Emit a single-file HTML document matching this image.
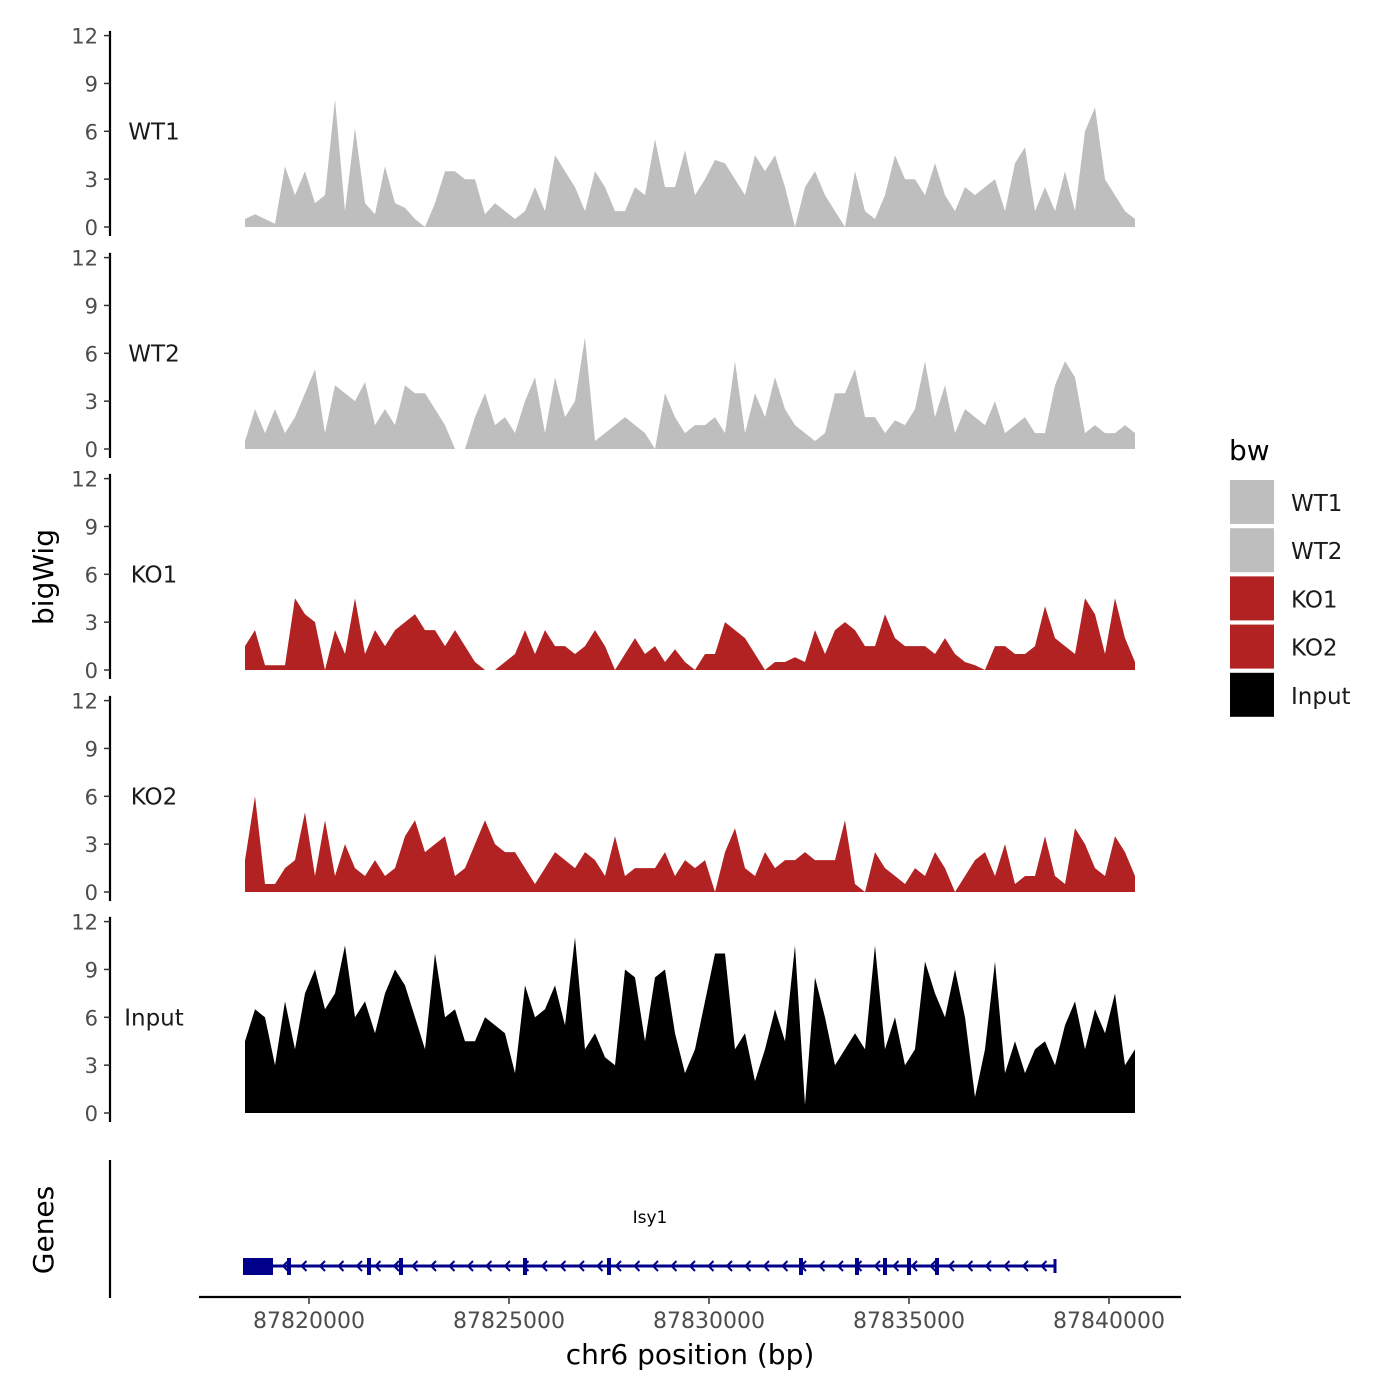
<!DOCTYPE html>
<html><head><meta charset="utf-8"><style>
html,body{margin:0;padding:0;background:#fff}
svg{display:block;font-family:"DejaVu Sans","Liberation Sans",sans-serif}
</style></head><body>
<svg id="chart" width="1400" height="1400" viewBox="0 0 1400 1400"></svg>
<script>
const trackNames = ["WT1","WT2","KO1","KO2","Input"];
const trackColors = ["#bebebe","#bebebe","#b22222","#b22222","#000000"];
const startBp = 87818400;
const stepBp = 250;
const wt1 = [0.5,0.8,0.5,0.2,3.8,2,3.5,1.5,2,8,1,6.2,1.5,0.8,3.8,1.5,1.2,0.5,0,1.5,3.5,3.5,3,3,0.8,1.5,1,0.5,1,2.5,1,4.5,3.5,2.5,1,3.5,2.5,1,1,2.5,2,5.5,2.5,2.5,4.8,2,3,4.2,4,3,2,4.5,3.5,4.5,2.5,0,2.5,3.5,2,1,0,3.5,1,0.5,2,4.5,3,3,2,4,2,1,2.5,2,2.5,3,1,4,5,1,2.5,1,3.5,1,6,7.5,3,2,1,0.5];
const wt2 = [0.5,2.5,1,2.5,1,2,3.5,5,1,4,3.5,3,4.2,1.5,2.5,1.5,4,3.5,3.5,2.5,1.5,0,0,2,3.5,1.5,2,1,3,4.5,1,4.5,2,3,7,0.5,1,1.5,2,1.5,1,0,3.5,2,1,1.5,1.5,2,1,5.5,1,3.5,2,4.5,2.5,1.5,1,0.5,1,3.5,3.5,5,2,2,1,1.8,1.5,2.5,5.5,2,4,1,2.5,2,1.5,3,1,1.5,2,1,1,4,5.5,4.5,1,1.5,1,1,1.5,1];
const ko1 = [1.5,2.5,0.3,0.3,0.3,4.5,3.5,3,0,2.5,1,4.5,1,2.5,1.5,2.5,3,3.5,2.5,2.5,1.5,2.5,1.5,0.5,0,0,0.5,1,2.5,1,2.5,1.5,1.5,1,1.5,2.5,1.5,0,1,2,1,1.5,0.5,1.3,0.5,0,1,1,3,2.5,2,1,0,0.5,0.5,0.8,0.5,2.5,1,2.5,3,2.5,1.5,1.5,3.5,2,1.5,1.5,1.5,1,2,1,0.5,0.3,0,1.5,1.5,1,1,1.5,4,2,1.5,1,4.5,3.5,1,4.5,2,0.5];
const ko2 = [2,6,0.5,0.5,1.5,2,5,1,4.5,1,3,1.5,1,2,1,1.5,3.5,4.5,2.5,3,3.5,1,1.5,3,4.5,3,2.5,2.5,1.5,0.5,1.5,2.5,2,1.5,2.5,2,1,3.5,1,1.5,1.5,1.5,2.5,1,2,1.5,2,0,2.5,4,1.5,1,2.5,1.5,2,2,2.5,2,2,2,4.5,0.5,0,2.5,1.5,1,0.5,1.5,1,2.5,1.5,0,1,2,2.5,1,3,0.5,1,1,3.5,1,0.5,4,3,1.5,1,3.5,2.5,1];
const input = [4.5,6.5,6,3,7,4,7.5,9,6.5,7.5,10.5,6,7,5,7.5,9,8,6,4,10,6,6.5,4.5,4.5,6,5.5,5,2.5,8,6,6.5,8,5.5,11,4,5,3.5,3,9,8.5,4.5,8.5,9,5,2.5,4,7,10,10,4,5,2,4,6.5,4.5,10.5,0.5,8.5,6,3,4,5,4,10.5,4,6,3,4,9.5,7.5,6,9,6,1,4,9.5,2.5,4.5,2.5,4,4.5,3,5.5,7,4,6.5,5,7.5,3,4];
const seriesData = [wt1,wt2,ko1,ko2,input];
const yTicks = [0,3,6,9,12];
const xTicks = [87820000,87825000,87830000,87835000,87840000];
const exonBp = [87818650,87819500,87821500,87822300,87825400,87827500,87832300,87833700,87834400,87835000,87835700];

const NS="http://www.w3.org/2000/svg";
const svg=document.getElementById('chart');
function mk(t,a,p){const e=document.createElementNS(NS,t);for(const k in a)e.setAttribute(k,a[k]);(p||svg).appendChild(e);return e;}
const xS=bp=>309+(bp-87820000)*0.04;
const zeros=[227,449,670,892,1113];
const yS=(i,v)=>zeros[i]-v*15.95;

trackNames.forEach((name,i)=>{
  const g=mk('g',{});
  
  
  const axis=mk('line',{x1:110,x2:110,y1:yS(i,12.3),y2:zeros[i]+9,stroke:'#000','stroke-width':2.2},g);
  
  
  yTicks.forEach(t=>{
    const y=yS(i,t);
    mk('line',{x1:104,x2:110,y1:y,y2:y,stroke:'#333','stroke-width':1.5},g);
    const tx=mk('text',{x:98,y:y+8,'text-anchor':'end','font-size':21,fill:'#4d4d4d'},g);
    tx.textContent=t;
    
    
  });
  const vals=seriesData[i];
  let d='M'+xS(startBp)+','+zeros[i];
  vals.forEach((v,j)=>{d+=' L'+xS(startBp+j*stepBp).toFixed(1)+','+yS(i,v).toFixed(1);});
  d+=' L'+xS(startBp+(vals.length-1)*stepBp)+','+zeros[i]+'Z';
  const area=mk('path',{d:d,fill:trackColors[i]},g);
  
  
  const lb=mk('text',{x:154,y:yS(i,6)+8,'text-anchor':'middle','font-size':23,fill:'#1a1a1a'},g);
  lb.textContent=name;
  
  
});

const yt=mk('text',{x:0,y:0,'font-size':28,'text-anchor':'middle',transform:'translate(53,577) rotate(-90)'});
yt.textContent='bigWig';



const gg=mk('g',{});


mk('line',{x1:110,x2:110,y1:1160,y2:1298,stroke:'#000','stroke-width':2.2},gg);
const gt=mk('text',{x:0,y:0,'font-size':28,'text-anchor':'middle',transform:'translate(53,1230) rotate(-90)'},gg);
gt.textContent='Genes';


const gx1=xS(87818350),gx2=xS(87838650);
mk('line',{x1:gx1,x2:gx2,y1:1266,y2:1266,stroke:'#00008b','stroke-width':3},gg);
mk('rect',{x:gx1,y:1258,width:xS(87819100)-gx1,height:17,fill:'#00008b'},gg);
for(let x=gx1+40;x<gx2;x+=18.5){mk('path',{d:`M${x+5},${1261} L${x},${1266} L${x+5},${1271}`,fill:'none',stroke:'#00008b','stroke-width':2},gg);}
exonBp.forEach(b=>{mk('rect',{x:xS(b)-2,y:1258,width:4,height:17,fill:'#00008b'},gg);});
mk('line',{x1:gx2,x2:gx2,y1:1259,y2:1273,stroke:'#00008b','stroke-width':3},gg);
const gl=mk('text',{x:650,y:1223,'text-anchor':'middle','font-size':17,fill:'#000'},gg);
gl.textContent='Isy1';



const xa=mk('line',{x1:199,x2:1181,y1:1297,y2:1297,stroke:'#000','stroke-width':2.2});


xTicks.forEach(t=>{
  const x=xS(t);
  mk('line',{x1:x,x2:x,y1:1297,y2:1304,stroke:'#333','stroke-width':1.5});
  const tx=mk('text',{x:x,y:1328,'text-anchor':'middle','font-size':22,fill:'#4d4d4d'});
  tx.textContent=t;
  
  
});
const xt=mk('text',{x:690,y:1364,'text-anchor':'middle','font-size':28});
xt.textContent='chr6 position (bp)';



const lg=mk('g',{});


const lt=mk('text',{x:1229,y:460,'font-size':28},lg);
lt.textContent='bw';


trackNames.forEach((n,i)=>{
  const y=480+i*48.2;
  const r=mk('rect',{x:1230,y:y,width:44,height:44,fill:trackColors[i]},lg);
  
  
  const t=mk('text',{x:1291,y:y+31,'font-size':23,fill:'#1a1a1a'},lg);
  t.textContent=n;
  
  
});
</script>
</body></html>
